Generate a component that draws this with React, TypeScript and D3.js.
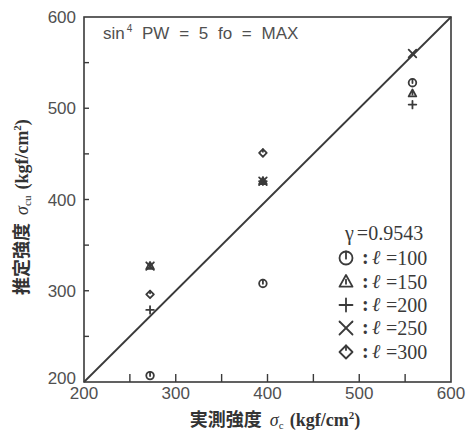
import React from "react";
import * as d3 from "d3";

const measured: number[] = [272, 395, 558];
const series = [
  { key: "l100", label: "100", symbol: "circle", values: [207, 308, 528] },
  { key: "l150", label: "150", symbol: "triangle", values: [327, 420, 516] },
  { key: "l200", label: "200", symbol: "plus", values: [279, 420, 504] },
  { key: "l250", label: "250", symbol: "cross", values: [327, 420, 560] },
  { key: "l300", label: "300", symbol: "diamond", values: [296, 451, null] },
];
const tickValues: number[] = [200, 300, 400, 500, 600];
const minorTicks: number[] = [250, 300, 350, 400, 450, 500, 550];
const corr = "0.9543";

const W = 474;
const H = 434;
const INK = "#3a3a3a";
const TXT = "#505050";

function Marker({ type, cx, cy, s, sw }: { type: string; cx: number; cy: number; s: number; sw: number }) {
  const common = { fill: "none", stroke: INK, strokeWidth: sw, strokeLinecap: "round" as const };
  if (type === "circle") {
    return (
      <g {...common}>
        <circle cx={cx} cy={cy} r={s} />
        <line x1={cx} y1={cy - s} x2={cx} y2={cy + s * 0.1} />
      </g>
    );
  }
  if (type === "triangle") {
    const h = s * 1.8;
    return (
      <g {...common}>
        <path d={`M${cx},${cy - h * 0.6}L${cx + s},${cy + h * 0.4}L${cx - s},${cy + h * 0.4}Z`} strokeLinejoin="round" />
        <line x1={cx} y1={cy - h * 0.2} x2={cx} y2={cy + h * 0.15} />
      </g>
    );
  }
  if (type === "plus") {
    return (
      <g {...common}>
        <line x1={cx - s} y1={cy} x2={cx + s} y2={cy} />
        <line x1={cx} y1={cy - s} x2={cx} y2={cy + s} />
      </g>
    );
  }
  if (type === "cross") {
    return (
      <g {...common}>
        <line x1={cx - s} y1={cy - s} x2={cx + s} y2={cy + s} />
        <line x1={cx - s} y1={cy + s} x2={cx + s} y2={cy - s} />
      </g>
    );
  }
  return (
    <g {...common}>
      <path d={`M${cx},${cy - s}L${cx + s},${cy}L${cx},${cy + s}L${cx - s},${cy}Z`} strokeLinejoin="round" />
      <line x1={cx} y1={cy - s} x2={cx} y2={cy - s * 0.3} />
    </g>
  );
}

export default function App() {
  const x = d3.scaleLinear().domain([200, 600]).range([84, 451]);
  const y = d3.scaleLinear().domain([200, 600]).range([382, 17]);
  const [x0, x1] = x.range();
  const [y0, y1] = y.range();

  const sans = "'Liberation Sans', Arial, sans-serif";
  const serif = "'Liberation Serif', 'DejaVu Serif', serif";
  const cjk = "'Noto Sans CJK JP', sans-serif";

  const legendY = [258, 282, 305, 328, 352];

  return (
    <svg width={W} height={H} style={{ position: "absolute", left: 0, top: 0, background: "#fff" }}>
      <rect x={x0} y={y1} width={x1 - x0} height={y0 - y1} fill="none" stroke={INK} strokeWidth={1.6} />
      {minorTicks.map((t) => (
        <line key={"bx" + t} x1={x(t)} x2={x(t)} y1={y0} y2={y0 - 8} stroke={INK} strokeWidth={1.4} />
      ))}
      {minorTicks.map((t) => (
        <line key={"ly" + t} x1={x0} x2={x0 + 5} y1={y(t)} y2={y(t)} stroke={INK} strokeWidth={1.4} />
      ))}
      <line x1={x(200)} y1={y(200)} x2={x(600)} y2={y(600)} stroke={INK} strokeWidth={1.8} />

      {tickValues.map((t) => (
        <text key={"xl" + t} x={x(t)} y={399} textAnchor="middle" fontFamily={sans} fontSize={17} fill={TXT}>
          {t}
        </text>
      ))}
      {tickValues.map((t) => (
        <text
          key={"yl" + t}
          x={76}
          y={y(t) + (t === 200 ? 2 : 6)}
          textAnchor="end"
          fontFamily={sans}
          fontSize={17}
          fill={TXT}
        >
          {t}
        </text>
      ))}

      <text x={103} y={39} fontFamily={sans} fontSize={17} fill={TXT} wordSpacing={5}>
        sin<tspan fontSize={10} dy={-7} dx={2}>4</tspan>
        <tspan dy={7}> PW = 5 fo = MAX</tspan>
      </text>

      {series.map((s) =>
        s.values.map((v, i) =>
          v == null ? null : (
            <Marker key={s.key + i} type={s.symbol} cx={x(measured[i])} cy={y(v)} s={3.8} sw={1.8} />
          )
        )
      )}

      <text x={345} y={240} fontFamily={serif} fontSize={20} fill={INK}>
        <tspan>γ</tspan>
        <tspan dx={3}>={corr}</tspan>
      </text>
      {series.map((s, i) => (
        <g key={"lg" + s.key}>
          <Marker type={s.symbol} cx={346} cy={legendY[i]} s={6.5} sw={1.8} />
          <text x={362} y={legendY[i] + 6} fontFamily={serif} fontSize={20} fontWeight="bold" fill={INK}>
            :
          </text>
          <text x={372} y={legendY[i] + 6} fontFamily={serif} fontSize={20} fontStyle="italic" fill={INK}>
            ℓ
          </text>
          <text x={386} y={legendY[i] + 7} fontFamily={serif} fontSize={20} fill={INK}>
            ={s.label}
          </text>
        </g>
      ))}

      <text x={275} y={426} textAnchor="middle" fill="#333" fontSize={18}>
        <tspan fontFamily={cjk} fontWeight="bold">実測強度</tspan>
        <tspan fontFamily={serif} fontStyle="italic" dx={8}>σ</tspan>
        <tspan fontFamily={serif} fontSize={11} dy={3}>c</tspan>
        <tspan fontFamily={serif} fontWeight="bold" dy={-3} dx={6}>(kgf/cm</tspan>
        <tspan fontFamily={serif} fontWeight="bold" fontSize={11} dy={-7}>2</tspan>
        <tspan fontFamily={serif} fontWeight="bold" dy={7}>)</tspan>
      </text>

      <text transform="translate(28,207) rotate(-90)" textAnchor="middle" fill="#333" fontSize={18}>
        <tspan fontFamily={cjk} fontWeight="bold">推定強度</tspan>
        <tspan fontFamily={serif} fontStyle="italic" dx={8}>σ</tspan>
        <tspan fontFamily={serif} fontSize={11} dy={3}>cu</tspan>
        <tspan fontFamily={serif} fontWeight="bold" dy={-3} dx={6}>(kgf/cm</tspan>
        <tspan fontFamily={serif} fontWeight="bold" fontSize={11} dy={-7}>2</tspan>
        <tspan fontFamily={serif} fontWeight="bold" dy={7}>)</tspan>
      </text>
    </svg>
  );
}
